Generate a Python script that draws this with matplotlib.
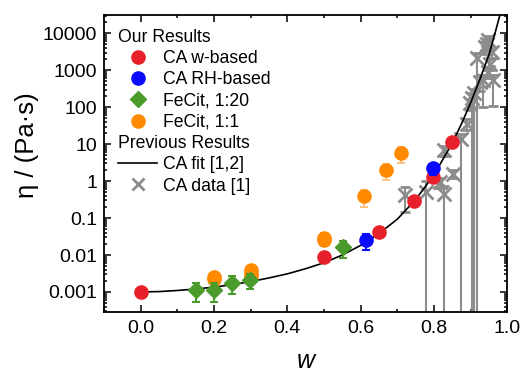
import matplotlib
matplotlib.use('Agg')
import matplotlib.pyplot as plt
import numpy as np
from matplotlib.lines import Line2D
from matplotlib.ticker import FuncFormatter, LogLocator, MultipleLocator, NullFormatter

plt.rcParams['font.family'] = ['Liberation Sans', 'DejaVu Sans']

# CA fit curve [1,2]: w vs log10(eta)
fit_w = [0.0, 0.05, 0.1, 0.15, 0.2, 0.25, 0.3, 0.35, 0.4, 0.45, 0.5, 0.55, 0.6,
         0.65, 0.7, 0.75, 0.8, 0.85, 0.875, 0.9, 0.925, 0.95, 0.965, 0.98]
fit_log_eta = [-3.0, -2.99, -2.96, -2.92, -2.87, -2.80, -2.72, -2.62, -2.51, -2.37,
               -2.21, -2.00, -1.74, -1.42, -1.03, -0.50, 0.17, 1.03, 1.55, 2.12,
               2.75, 3.42, 3.95, 4.5]

# CA, w-based
ca_w = [0.0, 0.5, 0.65, 0.745, 0.797, 0.849]
ca_eta = [0.001, 0.0089, 0.043, 0.29, 1.3, 11.5]

# CA, RH-based
rh_w = [0.614, 0.798]
rh_eta = [0.025, 2.2]
rh_err = [0.011, 0.76]

# FeCit 1:20
fe20_w = [0.151, 0.2, 0.248, 0.298, 0.551]
fe20_eta = [0.00113, 0.00113, 0.0018, 0.0021, 0.0165]
fe20_err = [0.0006, 0.0006, 0.0009, 0.0009, 0.008]

# FeCit 1:1
fe1_w = [0.2, 0.2, 0.3, 0.3, 0.3, 0.5, 0.5, 0.609, 0.669, 0.709]
fe1_eta = [0.0022, 0.0026, 0.0027, 0.0033, 0.0039, 0.025, 0.029, 0.39, 2.0, 5.6]
fe1_err = [0.0005, 0.0005, 0.0006, 0.0007, 0.0008, 0.008, 0.01, 0.19, 0.93, 2.6]

# CA data [1]
ref_w = [0.722, 0.778, 0.817, 0.826, 0.828, 0.853, 0.873, 0.891, 0.898, 0.903, 0.910,
         0.917, 0.926, 0.935, 0.939, 0.944, 0.948, 0.948, 0.953, 0.958, 0.962]
ref_eta = [0.42, 0.50, 0.95, 0.45, 6.9, 1.6, 13.5, 36, 126, 180, 235,
           2100, 480, 540, 4300, 5200, 6500, 900, 1500, 3200, 560]
ref_err_lo = [0.27, 0.50, 0.3, 0.45, 2.0, 0.4, 13.5, 12, 40, 180, 235,
              2100, 200, 440, 1500, 1800, 2000, 300, 500, 1000, 450]
ref_err_hi = [0.27, 0.5, 0.3, 0.3, 2.0, 0.4, 5, 12, 40, 60, 80,
              800, 200, 200, 1500, 1800, 2000, 300, 500, 1000, 200]

red = '#e8202a'
blue = '#0a0aff'
green = '#4a9a2c'
orange = '#ff8a00'
grey = '#8c8c8c'

fig = plt.figure(figsize=(5.23, 3.70), dpi=100)
ax = fig.add_axes([0.199, 0.158, 0.771, 0.802])
ax.set_yscale('log')

ax.errorbar(ref_w, ref_eta, yerr=[ref_err_lo, ref_err_hi], fmt='x', color=grey,
            ms=10, mew=2.0, elinewidth=1.5, capsize=3.5, capthick=1.5, zorder=2)
ax.plot(fit_w, 10 ** np.array(fit_log_eta), color='black', lw=1.2, zorder=3)
ax.errorbar(fe1_w, fe1_eta, yerr=fe1_err, fmt='o', color=orange, ecolor='#ffb870',
            ms=9.5, elinewidth=1.2, capsize=3, capthick=1.2, zorder=4)
ax.errorbar(fe20_w, fe20_eta, yerr=fe20_err, fmt='D', color=green, ms=8.5,
            elinewidth=1.5, capsize=3, capthick=1.5, zorder=5)
ax.plot(ca_w, ca_eta, 'o', color=red, ms=9.5, zorder=6)
ax.errorbar(rh_w, rh_eta, yerr=rh_err, fmt='o', color=blue, ms=9.5,
            elinewidth=1.5, capsize=3, capthick=1.5, zorder=7)

ax.set_xlim(-0.1, 1.0)
ax.set_ylim(10 ** -3.53, 10 ** 4.5)

ax.xaxis.set_major_locator(MultipleLocator(0.2))
ax.xaxis.set_minor_locator(MultipleLocator(0.1))
ax.xaxis.set_major_formatter(FuncFormatter(lambda v, p: f'{v:.1f}'))
ax.yaxis.set_major_locator(LogLocator(base=10, numticks=20))
ax.yaxis.set_minor_locator(LogLocator(base=10, subs=np.arange(2, 10), numticks=20))
ax.yaxis.set_major_formatter(FuncFormatter(lambda v, p: f'{v:g}'))
ax.yaxis.set_minor_formatter(NullFormatter())

ax.tick_params(which='both', direction='in', top=True, right=True, width=1.1,
               labelsize=14)
ax.tick_params(which='major', length=5)
ax.tick_params(which='minor', length=2.5)
ax.tick_params(axis='x', pad=6)
ax.tick_params(axis='y', pad=5)
for s in ax.spines.values():
    s.set_linewidth(1.3)

ax.set_xlabel('w', fontsize=18, style='italic', va='top')
ax.xaxis.set_label_coords(0.5, -0.125)
ax.set_ylabel('η / (Pa·s)', fontsize=18.5, va='center', ha='center')
ax.yaxis.set_label_coords(-0.191, 0.56)

headers = ['Our Results', 'Previous Results']
handles = [
    Line2D([], [], ls='none'),
    Line2D([], [], marker='o', color=red, ls='none', ms=9.5),
    Line2D([], [], marker='o', color=blue, ls='none', ms=9.5),
    Line2D([], [], marker='D', color=green, ls='none', ms=8.5),
    Line2D([], [], marker='o', color=orange, ls='none', ms=9.5),
    Line2D([], [], ls='none'),
    Line2D([], [], color='black', lw=1.2),
    Line2D([], [], marker='x', color=grey, ls='none', ms=9, mew=2.0),
]
labels = ['Our Results', 'CA w-based', 'CA RH-based', 'FeCit, 1:20', 'FeCit, 1:1',
          'Previous Results', 'CA fit [1,2]', 'CA data [1]']
leg = ax.legend(handles, labels, loc='upper left', frameon=False, fontsize=12.7,
                handlelength=2.2, handletextpad=0.35, labelspacing=0.24,
                borderaxespad=0.3, borderpad=0.5)

# headers start where the handles start
for vp in leg._legend_handle_box.get_children():
    for hp in vp.get_children():
        da, ta = hp.get_children()
        if ta.get_text() in headers:
            da.set_width(0)
            hp.sep = 0

fig.savefig('out.png', dpi=100)
